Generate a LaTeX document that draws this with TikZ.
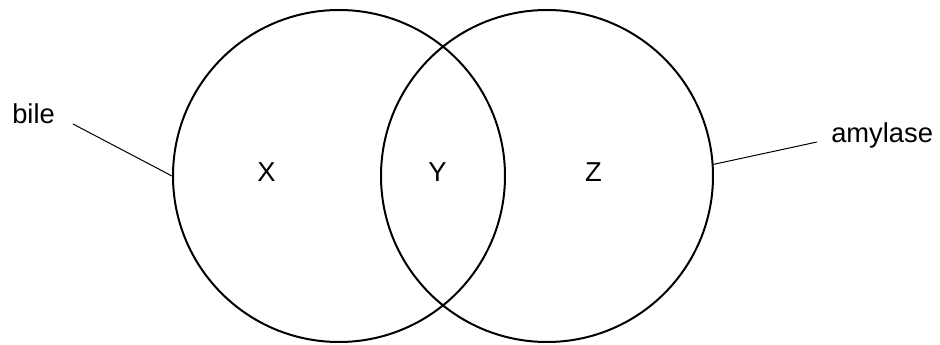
\documentclass[tikz,border=0pt]{standalone}
\usepackage{fontspec}
\setmainfont{Liberation Sans}
\usetikzlibrary{positioning}

\begin{document}
\begin{tikzpicture}[
      x=0.75pt, y=-0.75pt,
      set/.style={circle, draw=black, line width=1.5pt, minimum size=249pt, inner sep=0pt},
      lbl/.style={font=\fontsize{20.5}{24}\selectfont, inner sep=0pt},
      lead/.style={draw=black, line width=0.75pt}
    ]
      \useasboundingbox (0,0) rectangle (940,345);
      \node[set] (left) at (339,176) {};
      \node[set] (right) at (547,176) {};
      \node[lbl] (x) at (266.5,172) {X};
      \node[lbl] (y) at (437.5,172) {Y};
      \node[lbl] (z) at (593.5,172) {Z};
      \node[lbl, anchor=base west] (bile) at (12,123.5) {bile};
      \node[lbl, anchor=base west] (amylase) at (831,143) {amylase};
      \coordinate (bileend) at (73,124);
      \coordinate (amylaseend) at (817,142);
      \draw[lead] (bileend) -- (left.180);
      \draw[lead] (amylaseend) -- (right.4);
    \end{tikzpicture}
\end{document}
